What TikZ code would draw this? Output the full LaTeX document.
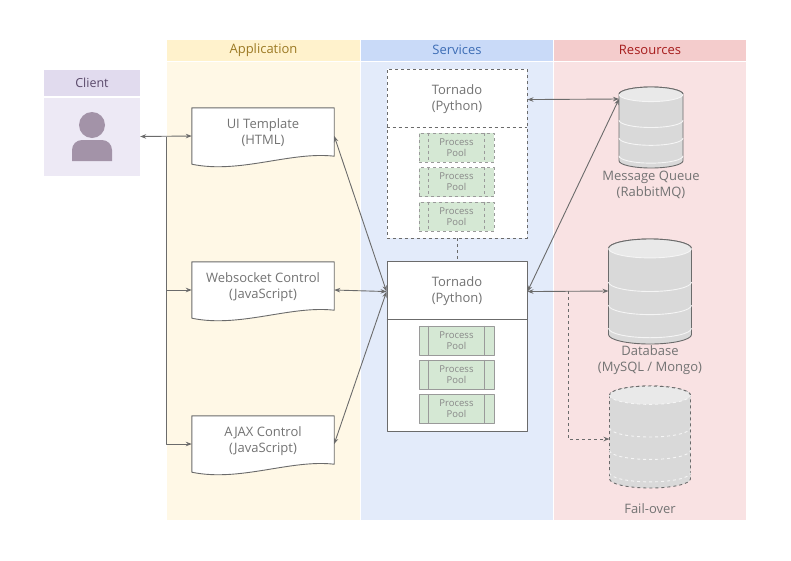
\documentclass[tikz,border=0pt]{standalone}
\usepackage{fontspec}
\setmainfont{Open Sans}
\usepackage{tikz}
\usetikzlibrary{arrows.meta, calc}

\definecolor{appHead}{HTML}{FFF2CC}
\definecolor{appBody}{HTML}{FFF8E6}
\definecolor{appText}{HTML}{9C7A24}
\definecolor{svcHead}{HTML}{C9DAF8}
\definecolor{svcBody}{HTML}{E3EBFA}
\definecolor{svcText}{HTML}{3D6DB5}
\definecolor{resHead}{HTML}{F4CCCC}
\definecolor{resBody}{HTML}{F9E2E3}
\definecolor{resText}{HTML}{A61C1C}
\definecolor{cliHead}{HTML}{E1DBEE}
\definecolor{cliBody}{HTML}{EDE9F5}
\definecolor{cliText}{HTML}{5B4A6B}
\definecolor{cliIcon}{HTML}{A393A8}
\definecolor{lineGray}{HTML}{6B6B6B}
\definecolor{textGray}{HTML}{737373}
\definecolor{poolFill}{HTML}{D5E8D4}
\definecolor{poolLine}{HTML}{9A9A9A}
\definecolor{cylFill}{HTML}{D9D9D9}
\definecolor{cylTop}{HTML}{E9E9E9}

\begin{document}
\begin{tikzpicture}[x=1pt, y=-1pt, line join=round,
    >={Stealth[length=6pt,width=4.5pt]},
    lanehead/.style={minimum height=21pt, inner sep=0pt, font=\fontsize{13}{15}\selectfont},
    docbox/.style={minimum width=142pt, minimum height=56pt, inner sep=0pt},
    doctext/.style={align=center, text=textGray, font=\fontsize{13}{16}\selectfont},
    docline/.style={draw=lineGray, fill=white, line width=0.9pt},
    tornbox/.style={draw=lineGray, fill=white, line width=0.9pt, minimum width=140pt, inner sep=0pt},
    poolbox/.style={draw=poolLine, fill=poolFill, line width=0.9pt, minimum width=75pt, minimum height=29pt,
        inner sep=0pt, align=center, text=textGray!85, font=\fontsize{9.5}{11}\selectfont},
    cylline/.style={draw=lineGray, line width=0.9pt},
    bandline/.style={draw=white!96!black, line width=0.9pt},
    link/.style={draw=lineGray, line width=0.9pt}]
    \useasboundingbox (0,0) rectangle (791,560);

    % swim lanes
    \foreach \nm/\cx/\xa/\xb/\hd/\bd/\tc/\lbl in {app/263.5/167/360/appHead/appBody/appText/Application,
            svc/457/361/553/svcHead/svcBody/svcText/Services,
            res/650/554/746/resHead/resBody/resText/Resources}{
        \pgfmathsetmacro{\lw}{\xb-\xa}
        \fill[\bd] (\xa,61.5) rectangle (\xb,520);
        \node[lanehead, fill=\hd, text=\tc, minimum width=\lw pt] (\nm-hd) at (\cx,50) {\lbl};
    }

    % client
    \node[fill=cliHead, minimum width=96pt, minimum height=26pt, inner sep=0pt, text=cliText,
        font=\fontsize{12.5}{14}\selectfont] (clienthd) at (92,83) {Client};
    \node[fill=cliBody, minimum width=96pt, minimum height=78pt, inner sep=0pt] (clientbd) at (92,136.5) {};
    \fill[cliIcon] (92,125) circle[radius=13];
    \fill[cliIcon] (72,161) -- (72,150) arc[start angle=180, end angle=270, radius=10]
        -- (102,140) arc[start angle=270, end angle=360, radius=10] -- (112,161) -- cycle;

    % application documents
    \node[docbox] (uitpl) at (263,136) {};
    \node[docbox] (wsctl) at (263,290) {};
    \node[docbox] (ajaxctl) at (263,444) {};
    \foreach \d in {uitpl,wsctl,ajaxctl}
        \draw[docline] (\d.north west) -- (\d.north east) -- ($(\d.south east)+(0,-8)$)
            .. controls ($(\d.south east)+(-44,-13)$) and ($(\d.south west)+(48,10)$) .. (\d.south west) -- cycle;
    \node[doctext] (uitpl-t) at ($(uitpl)+(0,-3)$) {UI Template\\(HTML)};
    \node[doctext] (wsctl-t) at ($(wsctl)+(0,-3)$) {Websocket Control\\(JavaScript)};
    \node[doctext] (ajaxctl-t) at ($(ajaxctl)+(0,-3)$) {AJAX Control\\(JavaScript)};

    % tornado services
    \node[tornbox, dashed, minimum height=169pt] (torntop) at (457,153.5) {};
    \draw[link, dashed] ($(torntop.north west)+(0,59)$) -- ($(torntop.north east)+(0,59)$);
    \node[doctext] (torntop-t) at ($(torntop.north)+(0,31)$) {Tornado\\(Python)};
    \node[tornbox, minimum height=170pt] (tornbot) at (457,346) {};
    \draw[link] ($(tornbot.north west)+(0,59)$) -- ($(tornbot.north east)+(0,59)$);
    \node[doctext] (tornbot-t) at ($(tornbot.north)+(0,31)$) {Tornado\\(Python)};

    \foreach \k/\py in {1/147.5, 2/182, 3/216.5}{
        \node[poolbox, dashed] (toppool\k) at (456.5,\py) {Process\\Pool};
        \draw[draw=poolLine, line width=0.9pt, dashed] ($(toppool\k.north west)+(10,0)$) -- ($(toppool\k.south west)+(10,0)$);
        \draw[draw=poolLine, line width=0.9pt, dashed] ($(toppool\k.north east)+(-10,0)$) -- ($(toppool\k.south east)+(-10,0)$);
    }
    \foreach \k/\py in {1/340.5, 2/374.5, 3/409}{
        \node[poolbox] (botpool\k) at (456.5,\py) {Process\\Pool};
        \draw[draw=poolLine, line width=0.9pt] ($(botpool\k.north west)+(10,0)$) -- ($(botpool\k.south west)+(10,0)$);
        \draw[draw=poolLine, line width=0.9pt] ($(botpool\k.north east)+(-10,0)$) -- ($(botpool\k.south east)+(-10,0)$);
    }

    % resources (cylinders)
    \foreach \nm/\cx/\ct/\cw/\ch/\cs in {mq/651/87/64/81/solid, db/650/239/83/105/solid, fo/650/386/81/102/dashed}{
        \pgfmathsetmacro{\ry}{0.09*\ch}
        \pgfmathsetmacro{\rx}{\cw/2}
        \pgfmathsetmacro{\xl}{\cx-\rx}
        \pgfmathsetmacro{\xr}{\cx+\rx}
        \pgfmathsetmacro{\yt}{\ct+\ry}
        \pgfmathsetmacro{\yb}{\ct+\ch-\ry}
        \draw[cylline, \cs, fill=cylFill] (\xl,\yt) -- (\xl,\yb) arc[start angle=180, end angle=0, x radius=\rx, y radius=\ry]
            -- (\xr,\yt) arc[start angle=0, end angle=-180, x radius=\rx, y radius=\ry] -- cycle;
        \fill[cylTop] (\cx,\yt) ellipse[x radius=\rx, y radius=\ry];
        \draw[cylline, \cs] (\xr,\yt) arc[start angle=0, end angle=-180, x radius=\rx, y radius=\ry];
        \foreach \f in {0, 0.32, 0.54, 0.76}{
            \pgfmathsetmacro{\yc}{\yt+\f*\ch}
            \draw[bandline, \cs] (\xl,\yc) arc[start angle=180, end angle=0, x radius=\rx, y radius=\ry];
        }
    }
    \node[doctext] (mq-t) at (651,184.5) {Message Queue\\(RabbitMQ)};
    \node[doctext] (db-t) at (650,360.5) {Database\\(MySQL / Mongo)};
    \node[doctext] (fo-t) at (650,508.5) {Fail-over};
    \coordinate (mqin) at (619,99);
    \coordinate (dbin) at (608.5,291);
    \coordinate (foin) at (609.5,439);
    \coordinate (fosplit) at (568,291);

    % connectors
    \coordinate (bus) at (166,136.5);
    \draw[link, <->] (clientbd.east) -- (uitpl.west);
    \draw[link, ->] (bus) |- (wsctl.west);
    \draw[link, ->] (bus) |- (ajaxctl.west);
    \draw[link, <->] (uitpl.east) -- (tornbot.west |- tornbot-t);
    \draw[link, <->] (wsctl.east) -- (tornbot.west |- tornbot-t);
    \draw[link, <->] (ajaxctl.east) -- (tornbot.west |- tornbot-t);
    \draw[link, dashed] (torntop.south) -- (tornbot.north);
    \draw[link, <->] (torntop.east |- torntop-t) -- (mqin);
    \draw[link, <->] (tornbot.east |- tornbot-t) -- (mqin);
    \draw[link, <->] (tornbot.east |- tornbot-t) -- (dbin);
    \draw[link, dashed, ->] (fosplit) |- (foin);
\end{tikzpicture}
\end{document}
